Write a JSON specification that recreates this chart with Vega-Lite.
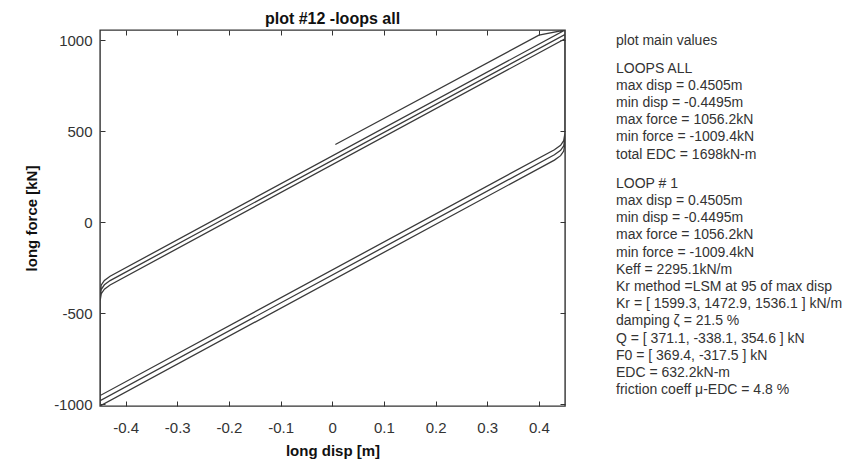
{
  "$schema": "https://vega.github.io/schema/vega-lite/v6.json",
  "background": "white",
  "padding": {"left": 23, "top": 9, "right": 0, "bottom": 0},
  "config": {"font": "Liberation Sans", "view": {"stroke": null}},
  "spacing": 49,
  "hconcat": [
    {
      "width": 465,
      "height": 376,
      "title": {"text": "plot #12 -loops all", "fontSize": 16, "fontWeight": "bold", "font": "Liberation Sans", "color": "#111111", "offset": 3, "anchor": "middle"},
      "view": {"stroke": "#333333", "strokeWidth": 1.4},
      "layer": [
        {
          "data": {"values": [
            {"i": 1, "disp": 0.006, "force": 427},
            {"i": 2, "disp": 0.40, "force": 1028},
            {"i": 3, "disp": 0.4505, "force": 1056.2},
            {"i": 4, "disp": 0.4505, "force": 490},
            {"i": 5, "disp": 0.448, "force": 448.1},
            {"i": 6, "disp": 0.442, "force": 422.9},
            {"i": 7, "disp": 0.43, "force": 398.5},
            {"i": 8, "disp": -0.4495, "force": -952.4},
            {"i": 9, "disp": -0.4495, "force": -386.4},
            {"i": 10, "disp": -0.447, "force": -344.6},
            {"i": 11, "disp": -0.441, "force": -319.4},
            {"i": 12, "disp": -0.43, "force": -296.5},
            {"i": 13, "disp": 0.4505, "force": 1056.0},
            {"i": 14, "disp": 0.4505, "force": 462},
            {"i": 15, "disp": 0.448, "force": 420.1},
            {"i": 16, "disp": 0.442, "force": 394.9},
            {"i": 17, "disp": 0.43, "force": 370.5},
            {"i": 18, "disp": -0.4495, "force": -980.4},
            {"i": 19, "disp": -0.4495, "force": -410.4},
            {"i": 20, "disp": -0.447, "force": -368.6},
            {"i": 21, "disp": -0.441, "force": -343.4},
            {"i": 22, "disp": -0.43, "force": -320.5},
            {"i": 23, "disp": 0.4505, "force": 1032},
            {"i": 24, "disp": 0.4505, "force": 433},
            {"i": 25, "disp": 0.448, "force": 391.1},
            {"i": 26, "disp": 0.442, "force": 365.9},
            {"i": 27, "disp": 0.43, "force": 341.5},
            {"i": 28, "disp": -0.4495, "force": -1009.4},
            {"i": 29, "disp": -0.4495, "force": -434.4},
            {"i": 30, "disp": -0.447, "force": -392.6},
            {"i": 31, "disp": -0.441, "force": -367.4},
            {"i": 32, "disp": -0.43, "force": -344.5},
            {"i": 33, "disp": 0.4505, "force": 1008}
          ]},
          "mark": {"type": "line", "color": "#3a3a3a", "strokeWidth": 1.3, "clip": true},
          "encoding": {
            "x": {
              "field": "disp", "type": "quantitative",
              "scale": {"domain": [-0.4495, 0.4505], "nice": false, "zero": false},
              "axis": {"orient": "bottom", "title": "long disp [m]", "values": [-0.4, -0.3, -0.2, -0.1, 0, 0.1, 0.2, 0.3, 0.4],
                "labelExpr": "'' + datum.value", "grid": false, "domain": false, "tickSize": -5, "tickColor": "#333333",
                "labelPadding": 19, "labelFontSize": 15, "labelColor": "#333333", "labelFlush": false, "labelFont": "Liberation Sans",
                "titleFontSize": 15, "titleFontWeight": "bold", "titlePadding": 8, "titleColor": "#111111", "titleFont": "Liberation Sans"}
            },
            "y": {
              "field": "force", "type": "quantitative",
              "scale": {"domain": [-1009.4, 1056.2], "nice": false, "zero": false},
              "axis": {"orient": "left", "title": "long force [kN]", "values": [-1000, -500, 0, 500, 1000],
                "labelExpr": "'' + datum.value", "grid": false, "domain": false, "tickSize": -5, "tickColor": "#333333",
                "labelPadding": 13, "labelFontSize": 15, "labelColor": "#333333", "labelFlush": false, "labelFont": "Liberation Sans",
                "titleFontSize": 15, "titleFontWeight": "bold", "titlePadding": 14, "titleColor": "#111111", "titleFont": "Liberation Sans"}
            },
            "order": {"field": "i", "type": "quantitative"}
          }
        },
        {
          "data": {"values": [{}]},
          "mark": {"type": "rule", "opacity": 0},
          "encoding": {
            "x": {"datum": 0, "type": "quantitative",
              "axis": {"orient": "top", "title": null, "values": [-0.4, -0.3, -0.2, -0.1, 0, 0.1, 0.2, 0.3, 0.4], "labels": false, "grid": false, "domain": false, "tickSize": -5, "tickColor": "#333333"}},
            "y": {"datum": 0, "type": "quantitative",
              "axis": {"orient": "right", "title": null, "values": [-1000, -500, 0, 500, 1000], "labels": false, "grid": false, "domain": false, "tickSize": -5, "tickColor": "#333333"}}
          }
        }
      ],
      "resolve": {"axis": {"x": "independent", "y": "independent"}}
    },
    {
      "width": 246,
      "height": 376,
      "data": {"values": [
        {"line": 0, "text": "plot main values"},
        {"line": 1.6, "text": "LOOPS ALL"},
        {"line": 2.6, "text": "max disp = 0.4505m"},
        {"line": 3.6, "text": "min disp = -0.4495m"},
        {"line": 4.6, "text": "max force = 1056.2kN"},
        {"line": 5.6, "text": "min force = -1009.4kN"},
        {"line": 6.6, "text": "total EDC = 1698kN-m"},
        {"line": 8.3, "text": "LOOP # 1"},
        {"line": 9.3, "text": "max disp = 0.4505m"},
        {"line": 10.3, "text": "min disp = -0.4495m"},
        {"line": 11.3, "text": "max force = 1056.2kN"},
        {"line": 12.3, "text": "min force = -1009.4kN"},
        {"line": 13.3, "text": "Keff = 2295.1kN/m"},
        {"line": 14.3, "text": "Kr method =LSM at 95 of max disp"},
        {"line": 15.3, "text": "Kr = [ 1599.3, 1472.9, 1536.1 ] kN/m"},
        {"line": 16.3, "text": "damping ζ = 21.5 %"},
        {"line": 17.3, "text": "Q = [ 371.1, -338.1, 354.6 ] kN"},
        {"line": 18.3, "text": "F0 = [ 369.4, -317.5 ] kN"},
        {"line": 19.3, "text": "EDC = 632.2kN-m"},
        {"line": 20.3, "text": "friction coeff μ-EDC = 4.8 %"}
      ]},
      "mark": {"type": "text", "align": "left", "baseline": "middle", "fontSize": 14, "font": "Liberation Sans", "color": "#333333"},
      "encoding": {
        "x": {"datum": 0, "type": "quantitative", "scale": {"domain": [0, 1]}, "axis": null},
        "y": {"field": "line", "type": "quantitative", "scale": {"domain": [-0.64, 21.22], "reverse": true, "nice": false, "zero": false}, "axis": null},
        "text": {"field": "text"}
      }
    }
  ]
}
